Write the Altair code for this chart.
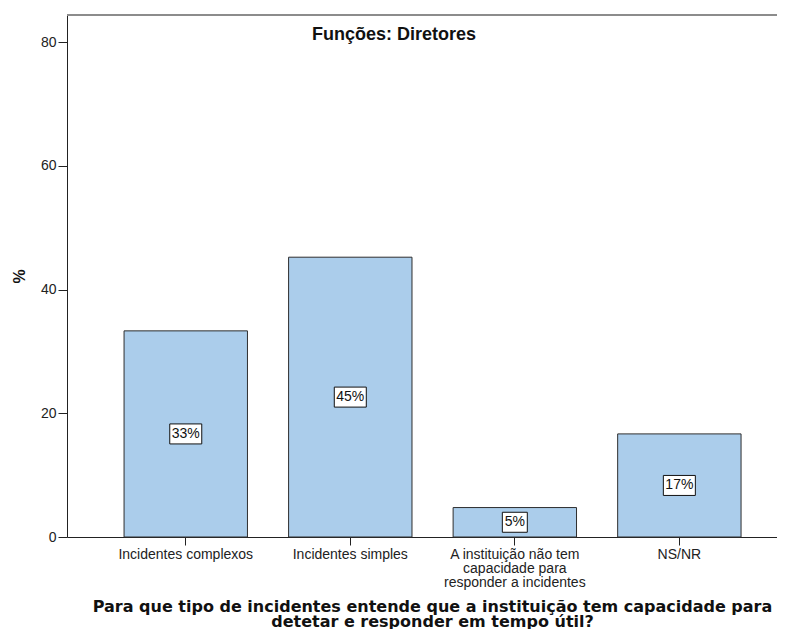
import altair as alt
import pandas as pd

categories = [
    "Incidentes complexos",
    "Incidentes simples",
    "A instituição não tem capacidade para responder a incidentes",
    "NS/NR",
]
label_lines = [
    ["Incidentes complexos"],
    ["Incidentes simples"],
    ["A instituição não tem", "capacidade para", "responder a incidentes"],
    ["NS/NR"],
]
values = [33.33, 45.24, 4.76, 16.67]
value_labels = ["33%", "45%", "5%", "17%"]
y_ticks = [0, 20, 40, 60, 80]
y_max = 84.4

df = pd.DataFrame({
    "cat": categories,
    "val": values,
    "label": value_labels,
})
df["half"] = df["val"] / 2
df["nch"] = df["label"].str.len().astype(str)

# labelExpr for multi-line labels
parts = []
for c, lines in zip(categories, label_lines):
    arr = "[" + ",".join("'" + l + "'" for l in lines) + "]"
    parts.append(f"datum.label == '{c}' ? {arr} : ")
label_expr = "".join(parts) + "datum.label"

x_enc = alt.X(
    "cat:N",
    sort=categories,
    scale=alt.Scale(paddingInner=0.25, paddingOuter=0.2826, align=0.6135),
    axis=alt.Axis(
        labelAngle=0,
        labelExpr=label_expr,
        labelFont="Liberation Sans",
        labelFontSize=14,
        labelColor="#222222",
        labelLineHeight=14,
        labelPadding=2,
        tickSize=8,
        tickColor="#222222",
        domainColor="#222222",
        title=["Para que tipo de incidentes entende que a instituição tem capacidade para",
               "detetar e responder em tempo útil?"],
        titleFont="DejaVu Sans",
        titleFontSize=16,
        titleFontWeight="bold",
        titleColor="#111111",
        titleLineHeight=15,
        titlePadding=9,
        titleX=365,
    ),
)
y_scale = alt.Scale(domain=[0, y_max], nice=False, zero=True)
y_axis = alt.Axis(
    values=y_ticks,
    grid=False,
    domainColor="#222222",
    tickColor="#222222",
    tickSize=9,
    labelFont="Liberation Sans",
    labelFontSize=14,
    labelColor="#222222",
    labelPadding=2,
    title="%",
    titleFont="Liberation Sans",
    titleFontSize=16,
    titleFontWeight="bold",
    titleColor="#111111",
    titlePadding=13,
)

base = alt.Chart(df)

bars = base.mark_bar(fill="#abcdeb", stroke="#2e2e2e", strokeWidth=1).encode(
    x=x_enc,
    y=alt.Y("val:Q", scale=y_scale, axis=y_axis),
)

p3 = "M-1,-0.625L1,-0.625L1,0.625L-1,0.625Z"
p2 = "M-0.78,-0.625L0.78,-0.625L0.78,0.625L-0.78,0.625Z"
boxes = base.mark_point(
    filled=True, fill="white", stroke="#111111", strokeWidth=1, opacity=1, size=1024
).encode(
    x=alt.X("cat:N", sort=categories),
    y=alt.Y("half:Q"),
    shape=alt.Shape("nch:N", scale=alt.Scale(domain=["2", "3"], range=[p2, p3]), legend=None),
)

texts = base.mark_text(font="Liberation Sans", fontSize=14, color="#111111", baseline="middle").encode(
    x=alt.X("cat:N", sort=categories),
    y=alt.Y("half:Q"),
    text="label:N",
)

top_rule = alt.Chart(pd.DataFrame({"t": [y_max]})).mark_rule(color="#8c8c8c", strokeWidth=2).encode(
    y=alt.Y("t:Q")
)

chart = alt.layer(bars, boxes, texts, top_rule).properties(
    width=710,
    height=522,
    title=alt.TitleParams(
        "Funções: Diretores",
        font="Liberation Sans",
        fontSize=18,
        fontWeight="bold",
        color="#111111",
        anchor="middle",
        offset=-30,
        dx=-28,
    ),
    autosize=alt.AutoSizeParams(type="none"),
    padding={"left": 59, "top": 7, "right": 0, "bottom": 92},
).configure_view(stroke=None)

chart.save("out.html", embed_options={"renderer": "svg", "actions": False})
